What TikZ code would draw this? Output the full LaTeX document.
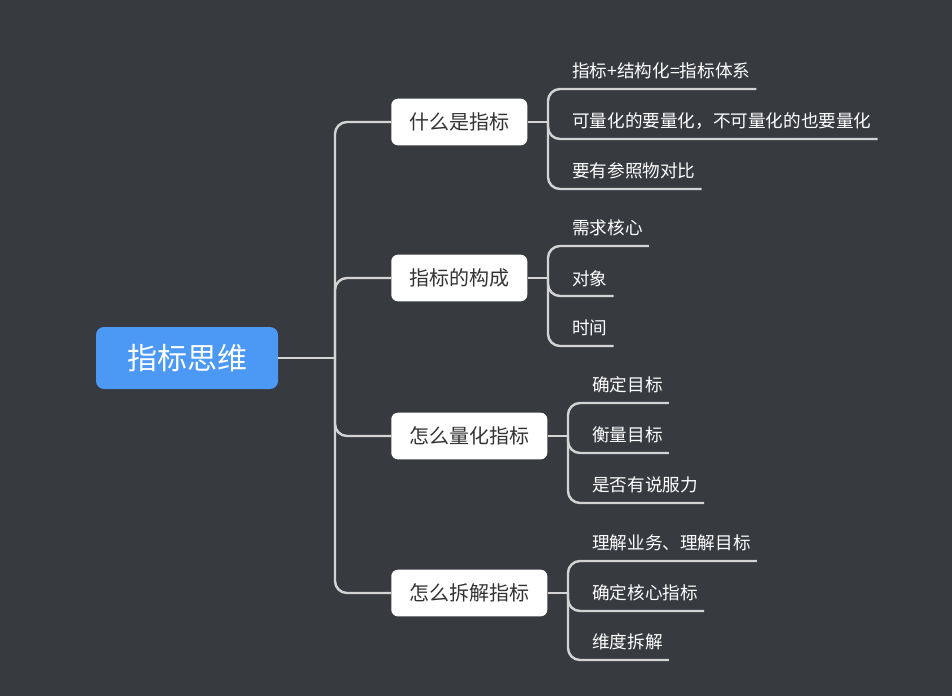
\documentclass[tikz,border=0pt]{standalone}
\usepackage{fontspec}
\setmainfont{Noto Sans CJK SC}
\usetikzlibrary{positioning}
\definecolor{MapBg}{HTML}{373A3F}
\definecolor{MapRoot}{HTML}{4C98F5}
\definecolor{MapLine}{HTML}{D4D4D4}
\definecolor{MapText}{HTML}{333333}

\begin{document}
\begin{tikzpicture}[x=0.75pt,y=-0.75pt]
  \tikzstyle{root}=[rounded corners=6pt, fill=MapRoot, text=white, font=\fontsize{22.5}{26}\selectfont, minimum width=136.5pt, minimum height=46.5pt]
  \tikzstyle{topic}=[rounded corners=5pt, fill=white, text=MapText, font=\fontsize{15}{18}\selectfont, inner xsep=13.5pt, minimum height=35pt, anchor=west]
  \tikzstyle{leaf}=[text=white, font=\fontsize{13.2}{16}\selectfont, inner xsep=4.5pt, inner ysep=7pt, anchor=south west]
  \tikzstyle{link}=[draw=MapLine, line width=1.8pt, rounded corners=9pt]
  \fill[MapBg] (0,0) rectangle (952,696);
  % centre and main topics
  \node[root] (r) at (187,358) {指标思维};
  \node[topic] (b1) at (391,122) {什么是指标};
  \node[topic] (b2) at (391,278) {指标的构成};
  \node[topic] (b3) at (391,436) {怎么量化指标};
  \node[topic] (b4) at (391,593) {怎么拆解指标};
  \coordinate (t) at (335,358);
  \coordinate (f1) at (548,122);
  \coordinate (f2) at (548,278);
  \coordinate (f3) at (568,436);
  \coordinate (f4) at (568,593);
  % subtopics
  \node[leaf] (l11) at (566,89) {指标+结构化=指标体系};
  \node[leaf] (l12) at (566,139) {可量化的要量化，不可量化的也要量化};
  \node[leaf] (l13) at (566,189) {要有参照物对比};
  \node[leaf] (l21) at (566,246) {需求核心};
  \node[leaf] (l22) at (566,296) {对象};
  \node[leaf] (l23) at (566,346) {时间};
  \node[leaf] (l31) at (586,403) {确定目标};
  \node[leaf] (l32) at (586,453) {衡量目标};
  \node[leaf] (l33) at (586,503) {是否有说服力};
  \node[leaf] (l41) at (586,561) {理解业务、理解目标};
  \node[leaf] (l42) at (586,611) {确定核心指标};
  \node[leaf] (l43) at (586,660) {维度拆解};
  % links
  \draw[link] (r.east) -- (t);
  \foreach \b in {b1,b2,b3,b4}
    \draw[link] (t) |- (\b.west);
  \foreach \b/\f in {1/f1,2/f2,3/f3,4/f4}{
    \draw[link] (b\b.east) -- (\f);
    \foreach \k in {1,2,3}
      \draw[link] (\f) |- (l\b\k.south east);
  }
\end{tikzpicture}
\end{document}
